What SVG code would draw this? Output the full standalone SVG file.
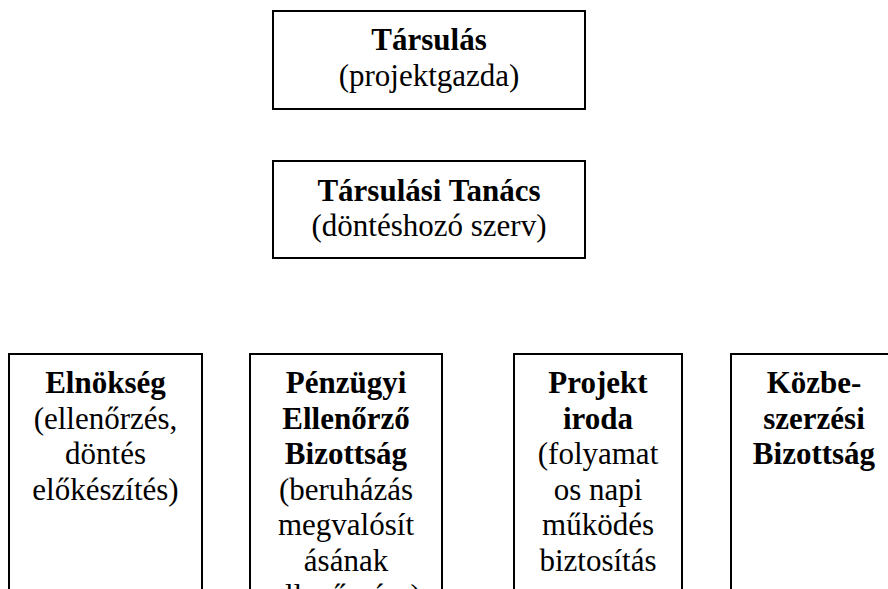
<svg xmlns="http://www.w3.org/2000/svg" width="888" height="589" viewBox="0 0 888 589">
<style>
.box{fill:#fff;stroke:#000;stroke-width:2}
text{font-family:"Liberation Serif","Times New Roman",serif;font-size:31px;fill:#000;text-anchor:middle}
.b{font-weight:bold}
</style>
<rect width="888" height="589" fill="#fff"/>
<g id="connectors"></g>
<g id="tarsulas">
<rect class="box" x="273" y="11" width="312" height="98"/>
<text x="429" y="50" class="b">Társulás</text>
<text x="429" y="85.5">(projektgazda)</text>
</g>
<g id="tanacs">
<rect class="box" x="273" y="161" width="312" height="97"/>
<text x="429" y="200.5" class="b">Társulási Tanács</text>
<text x="429" y="236">(döntéshozó szerv)</text>
</g>
<g id="elnokseg">
<rect class="box" x="9" y="354" width="193" height="260"/>
<text x="105.5" y="393" class="b">Elnökség</text>
<text x="105.5" y="428.5">(ellenőrzés,</text>
<text x="105.5" y="464">döntés</text>
<text x="105.5" y="499.5">előkészítés)</text>
</g>
<g id="penzugyi">
<rect class="box" x="250" y="354" width="192" height="260"/>
<text x="346" y="393" class="b">Pénzügyi</text>
<text x="346" y="428.5" class="b">Ellenőrző</text>
<text x="346" y="464" class="b">Bizottság</text>
<text x="346" y="499.5">(beruházás</text>
<text x="346" y="535">megvalósít</text>
<text x="346" y="570.5">ásának</text>
<text x="346" y="606">ellenőrzése)</text>
</g>
<g id="projekt">
<rect class="box" x="514" y="354" width="168" height="260"/>
<text x="598" y="393" class="b">Projekt</text>
<text x="598" y="428.5" class="b">iroda</text>
<text x="598" y="464">(folyamat</text>
<text x="598" y="499.5">os napi</text>
<text x="598" y="535">működés</text>
<text x="598" y="570.5">biztosítás</text>
</g>
<g id="kozbe">
<rect class="box" x="731" y="354" width="166" height="260"/>
<text x="814" y="393" class="b">Közbe-</text>
<text x="814" y="428.5" class="b">szerzési</text>
<text x="814" y="464" class="b">Bizottság</text>
</g>
</svg>
